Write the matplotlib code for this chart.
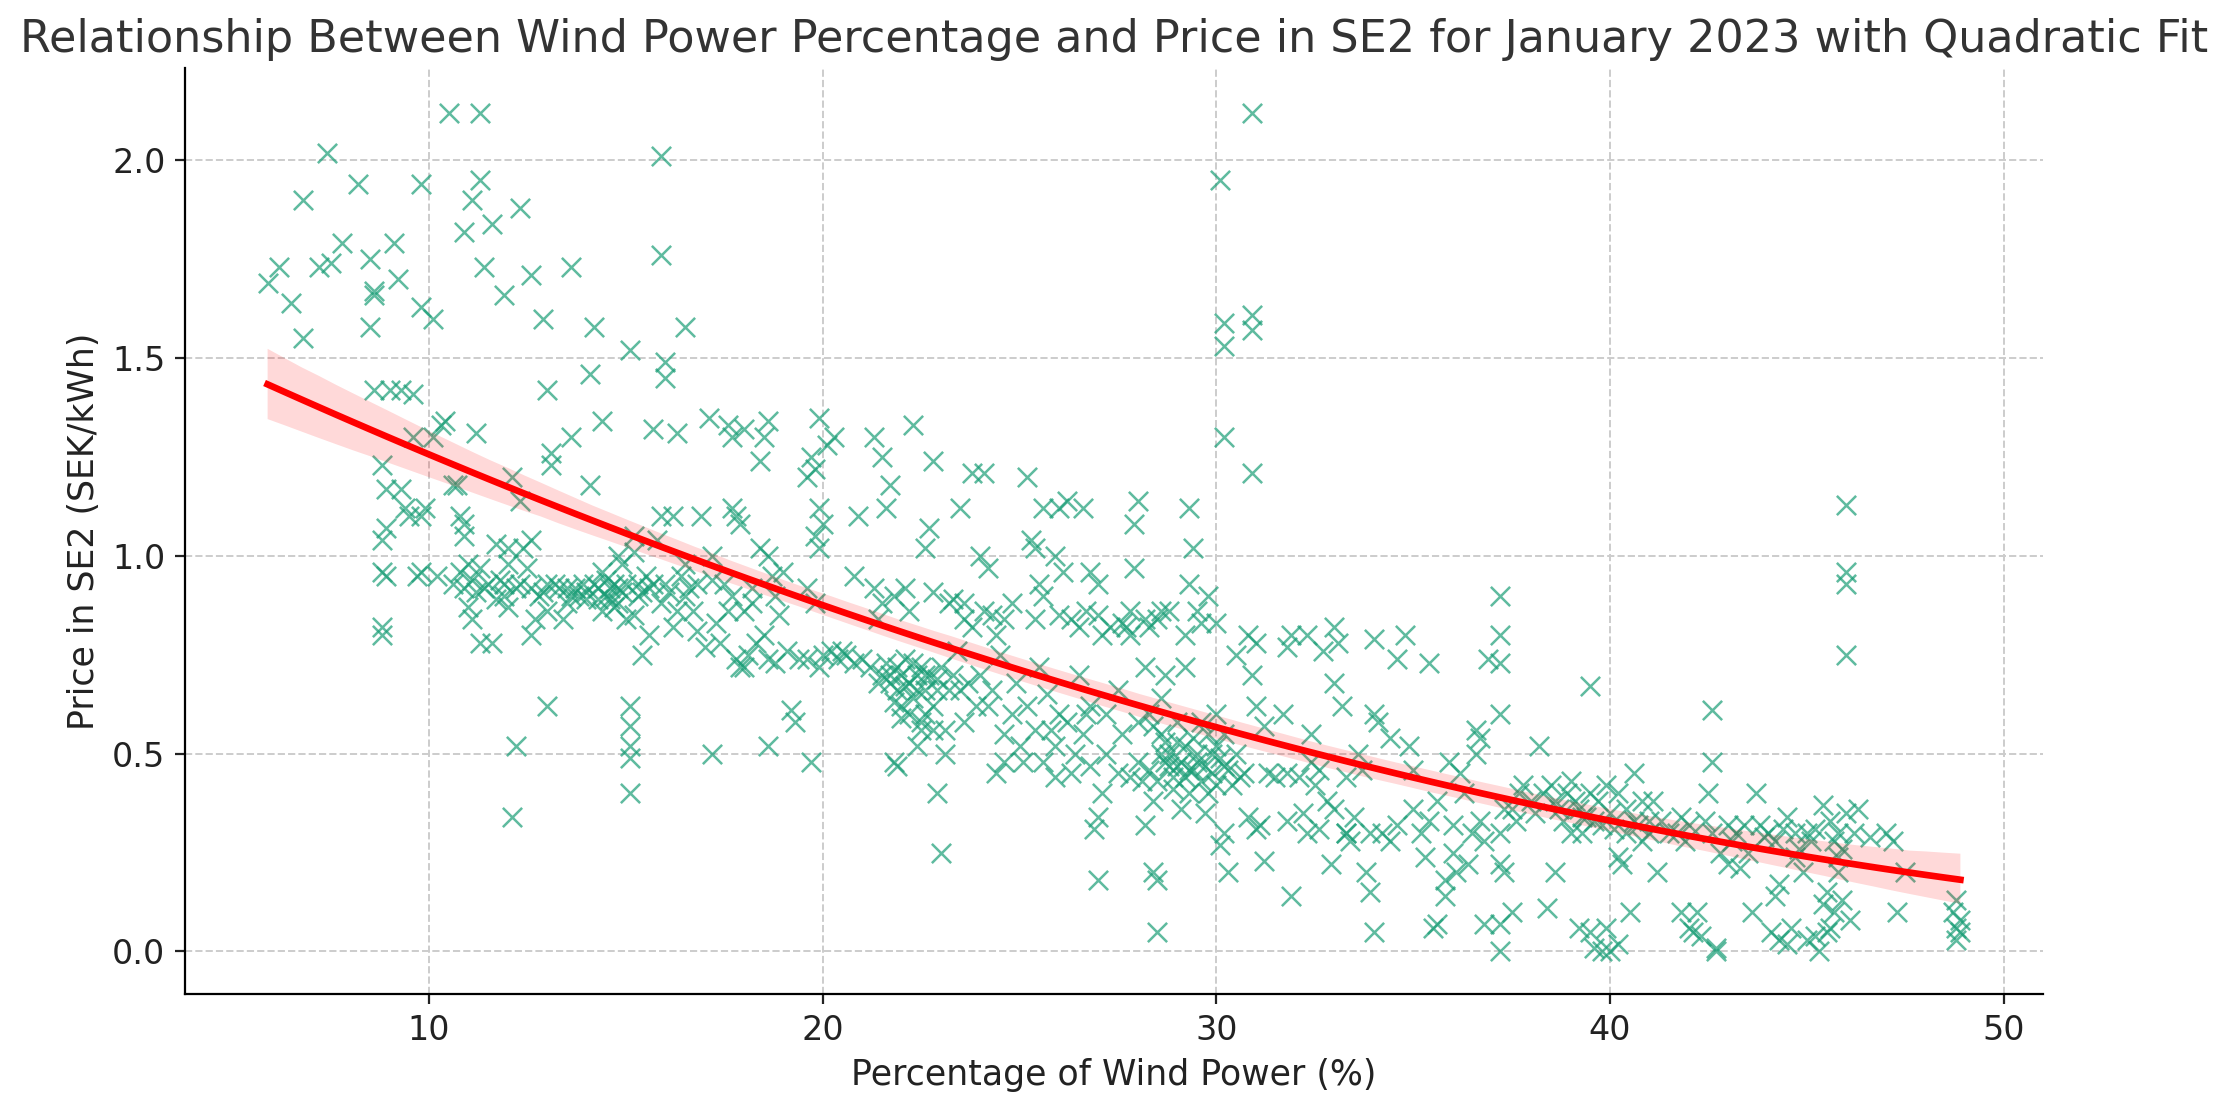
import matplotlib
matplotlib.use("Agg")
import matplotlib.pyplot as plt
import seaborn as sns
import numpy as np
import pandas as pd

# (wind %, price)
points = [
    # x 6-10
    (5.9,1.69),(6.2,1.73),(6.5,1.64),(6.8,1.90),(6.8,1.55),(7.2,1.73),(7.5,1.74),(7.4,2.02),(7.8,1.79),
    (8.2,1.94),(8.5,1.75),(8.6,1.66),(8.6,1.67),(8.5,1.58),(8.6,1.42),(9.1,1.79),(9.2,1.70),(9.0,1.42),
    (9.3,1.42),(9.6,1.41),(9.8,1.94),(9.8,1.63),(10.1,1.60),(8.8,1.23),(8.9,1.17),(8.9,1.07),(8.8,1.04),
    (8.8,0.96),(8.9,0.95),(8.8,0.82),(8.8,0.80),(9.3,1.17),(9.4,1.12),(9.5,1.10),(9.8,1.10),(9.8,0.96),
    (9.7,0.95),(9.9,1.12),(10.1,1.30),(10.3,1.33),(10.4,1.34),(9.6,1.30),
    # x 10-14
    (10.5,2.12),(11.3,2.12),(11.3,1.95),(11.1,1.90),(10.9,1.82),(11.6,1.84),(12.3,1.88),(11.4,1.73),
    (12.6,1.71),(11.9,1.66),(13.6,1.73),(12.9,1.60),(10.7,1.18),(10.8,1.10),(10.9,1.08),(10.9,1.05),
    (11.0,0.98),(11.1,0.94),(11.0,0.87),(11.1,0.84),(11.2,1.31),(10.6,1.18),(11.4,0.92),(11.3,0.78),
    (11.6,0.78),(11.8,0.94),(12.0,0.98),(12.1,1.20),(12.3,1.14),(12.0,1.02),(12.2,0.92),(12.4,1.02),
    (12.6,1.04),(12.6,0.80),(12.2,0.52),(12.1,0.34),(13.0,1.42),(13.1,1.26),(13.1,1.23),(13.0,0.62),
    (13.3,0.92),(13.6,1.30),(13.4,0.84),(13.0,0.93),(13.6,0.90),(13.9,0.93),(12.8,0.90),(11.7,1.03),(11.9,0.93),
    (10.2,0.95),(10.6,0.93),(10.9,0.92),(11.2,0.91),(11.5,0.93),(11.9,0.90),(12.3,0.93),(12.6,0.92),
    (12.9,0.91),(13.2,0.93),(13.7,0.92),(14.0,0.89),(11.3,0.97),(12.5,0.97),(13.5,0.88),(10.8,0.96),
    (11.7,0.89),(12.0,0.87),(13.0,0.86),(12.7,0.84),
    # x 14-18
    (14.2,1.58),(14.1,1.46),(14.4,1.34),(14.1,1.18),(14.3,0.92),(14.5,0.90),(14.6,0.89),(14.4,0.86),
    (14.7,0.93),(14.8,0.88),(14.9,0.98),(15.1,1.52),(15.2,1.05),(15.2,1.01),(15.3,0.93),(15.2,0.85),
    (15.1,0.62),(15.1,0.57),(15.1,0.52),(15.1,0.49),(15.1,0.40),(15.4,0.75),(15.6,0.80),(15.7,1.32),
    (15.9,2.01),(15.9,1.76),(16.0,1.49),(16.0,1.45),(15.9,1.10),(16.0,0.93),(16.2,1.10),(16.3,1.31),
    (16.5,1.58),(16.4,0.95),(16.6,0.92),(16.7,0.86),(16.8,0.81),(16.9,1.10),(16.5,0.98),(17.1,1.35),
    (17.2,1.00),(17.2,0.94),(17.0,0.77),(17.2,0.50),(17.6,1.33),(17.7,1.30),(17.7,1.12),(17.8,1.10),
    (17.9,1.08),(17.5,0.93),(17.7,0.90),(17.9,0.72),(17.8,0.74),(18.1,0.75),(18.0,1.32),(18.4,1.24),
    (15.8,1.04),(15.5,0.95),(14.0,0.91),(14.8,1.00),(15.0,0.84),(16.2,0.82),(17.3,0.83),(18.0,0.86),
    (14.2,0.93),(14.6,0.92),(14.9,0.91),(15.0,0.93),(15.3,0.90),(14.5,0.94),(14.7,0.87),(15.6,0.92),
    (13.8,0.90),(13.5,0.92),
    (14.3,0.89),(14.8,0.92),(15.4,0.91),(15.7,0.93),(16.1,0.91),(16.5,0.90),(16.8,0.93),(15.9,0.88),
    (16.3,0.86),(14.4,0.96),(17.4,0.78),(18.0,0.72),(17.6,0.86),
    # x 18-22
    (18.5,1.30),(18.6,1.34),(18.4,1.02),(18.6,1.00),(18.2,0.92),(18.5,0.80),(18.8,0.73),(19.0,0.96),
    (19.2,0.61),(19.3,0.58),(18.6,0.52),(19.7,0.48),(19.6,1.20),(19.7,1.25),(19.9,1.35),(19.8,1.22),
    (19.9,1.12),(20.0,1.08),(19.8,1.05),(19.9,1.02),(20.1,1.28),(20.3,1.30),(19.6,0.92),(19.8,0.88),
    (20.0,0.75),(19.9,0.72),(20.2,0.76),(20.5,0.76),(20.6,0.75),(21.0,0.74),(21.3,1.30),(21.5,1.25),
    (21.7,1.18),(21.6,1.12),(20.9,1.10),(21.3,0.92),(21.5,0.88),(21.4,0.84),(21.8,0.90),(21.5,0.70),
    (21.7,0.68),(21.9,0.72),(22.1,0.74),(21.8,0.63),(22.0,0.59),(21.8,0.48),(21.9,0.47),(22.3,1.33),
    (22.1,0.92),(22.2,0.86),(22.4,0.70),(22.3,0.64),(22.5,0.56),(22.6,0.60),(22.4,0.52),(19.4,0.74),
    (18.9,0.85),(20.8,0.95),(18.3,0.78),(18.7,0.95),(18.2,0.88),
    (21.6,0.73),(22.0,0.70),(22.2,0.68),(22.5,0.72),(22.7,0.70),(22.3,0.73),(21.9,0.66),(22.6,0.66),
    (22.0,0.62),(22.8,0.62),
    (18.6,0.74),(19.1,0.76),(19.6,0.74),(18.8,0.90),(20.4,0.74),(20.8,0.73),(21.2,0.72),(21.7,0.70),
    (22.1,0.67),(22.4,0.66),(21.4,0.68),(22.2,0.60),
    # x 22-26
    (22.8,1.24),(22.7,1.07),(22.6,1.02),(22.8,0.91),(22.9,0.40),(23.0,0.25),(23.1,0.56),(23.3,0.89),
    (23.5,1.12),(23.6,0.88),(23.8,0.82),(23.8,1.21),(24.1,1.21),(24.0,1.00),(24.2,0.97),(24.3,0.85),
    (24.4,0.80),(24.0,0.70),(24.2,0.62),(24.4,0.45),(24.6,0.48),(24.6,0.84),(24.9,0.68),(25.0,0.52),
    (25.2,1.20),(25.3,1.04),(25.4,1.02),(25.6,1.12),(25.5,0.93),(25.6,0.90),(25.4,0.84),(25.5,0.72),
    (25.7,0.65),(25.8,0.56),(25.6,0.48),(25.9,0.44),(26.0,1.12),(25.9,1.00),(26.1,0.96),(26.3,0.84),
    (23.0,0.72),(22.9,0.66),(23.2,0.66),(23.4,0.76),(23.6,0.58),(23.9,0.62),(24.5,0.75),(24.8,0.60),
    (23.1,0.50),(23.2,0.88),(23.6,0.84),(24.8,0.88),(24.1,0.86),
    (25.2,0.62),(26.0,0.60),(26.2,0.58),(26.8,0.62),
    (22.6,0.70),(22.9,0.69),(23.3,0.70),(23.7,0.68),(22.5,0.58),(22.8,0.56),(23.5,0.66),(24.3,0.66),
    (24.6,0.55),(25.1,0.48),(25.4,0.56),(25.9,0.52),
    # x 26-30
    (26.2,1.14),(26.6,1.12),(26.8,0.96),(27.0,0.93),(27.0,0.85),(26.7,0.86),(26.5,0.70),(26.6,0.55),
    (26.4,0.50),(26.8,0.47),(27.0,0.34),(27.1,0.40),(26.9,0.31),(27.0,0.18),(27.3,0.82),(27.5,0.66),
    (27.7,0.82),(27.8,0.86),(27.9,1.08),(28.0,1.14),(27.9,0.97),(28.2,0.84),(27.6,0.55),(27.8,0.44),
    (28.1,0.43),(28.0,0.48),(28.2,0.32),(28.3,0.60),(28.4,0.57),(28.4,0.20),(28.5,0.18),(28.5,0.05),
    (28.6,0.86),(28.8,0.86),(28.7,0.70),(28.6,0.64),(28.7,0.53),(28.6,0.50),(28.8,0.47),(28.9,0.44),
    (29.0,0.47),(29.2,0.80),(29.2,0.72),(29.3,1.12),(29.4,1.02),(29.3,0.93),(29.5,0.86),(29.6,0.83),
    (29.6,0.58),(29.4,0.46),(29.3,0.40),(29.8,0.40),(29.8,0.90),(30.0,0.83),(30.0,0.60),(30.1,0.49),
    (30.0,0.42),(30.2,0.30),(30.1,0.27),(30.1,1.95),(30.2,1.59),(30.2,1.53),(30.2,1.30),(27.2,0.60),
    (28.2,0.72),(28.0,0.58),(29.0,0.58),(29.9,0.50),(30.2,0.55),(30.3,0.20),(29.2,0.52),
    (28.8,0.50),(29.0,0.53),(29.1,0.48),(29.3,0.46),(29.5,0.50),(29.7,0.47),(30.3,0.46),(30.5,0.50),
    (28.6,0.55),(29.8,0.55),(30.4,0.42),(29.4,0.54),(27.6,0.83),(27.8,0.80),(28.3,0.82),(28.5,0.84),
    (26.3,0.45),(26.7,0.60),(27.2,0.50),(27.5,0.45),(26.0,0.85),(26.5,0.82),(27.1,0.80),
    (28.3,0.46),(28.5,0.43),(28.9,0.41),(29.2,0.44),(29.6,0.43),(29.9,0.45),(30.2,0.47),(30.6,0.44),
    (28.7,0.48),(29.5,0.48),(30.0,0.52),(28.4,0.38),(29.1,0.36),(29.7,0.35),
    # x 30-34
    (30.9,2.12),(30.9,1.61),(30.9,1.57),(30.9,1.21),(30.5,0.75),(30.8,0.80),(31.0,0.78),(30.9,0.70),
    (31.0,0.62),(31.2,0.57),(30.7,0.45),(30.8,0.34),(31.0,0.31),(31.1,0.32),(31.2,0.23),(31.5,0.44),
    (31.7,0.60),(31.8,0.45),(31.9,0.80),(31.8,0.77),(31.9,0.14),(32.3,0.80),(32.4,0.55),(32.4,0.48),
    (32.6,0.46),(32.5,0.42),(32.3,0.30),(32.6,0.31),(32.7,0.76),(33.0,0.82),(33.1,0.78),(33.0,0.68),
    (33.2,0.62),(33.3,0.44),(33.0,0.36),(33.3,0.30),(33.6,0.50),(33.7,0.46),(33.5,0.34),(33.3,0.30),
    (33.8,0.20),(33.9,0.15),(34.0,0.79),(34.0,0.60),(34.1,0.58),(34.0,0.05),(34.2,0.30),(34.4,0.28),
    (34.4,0.54),(32.9,0.22),(32.1,0.44),
    (31.3,0.45),(31.8,0.33),(32.2,0.35),(32.8,0.38),(33.4,0.28),(33.9,0.30),
    # x 34-38
    (34.6,0.74),(34.8,0.80),(34.9,0.52),(35.0,0.46),(35.0,0.36),(35.2,0.30),(35.4,0.73),(35.3,0.24),
    (35.5,0.06),(35.6,0.07),(35.8,0.14),(35.8,0.18),(35.9,0.48),(36.0,0.32),(36.2,0.45),(36.3,0.40),
    (36.4,0.22),(36.5,0.30),(36.6,0.56),(36.6,0.50),(36.7,0.54),(36.7,0.33),(36.9,0.74),(36.8,0.07),
    (37.2,0.90),(37.2,0.80),(37.2,0.73),(37.2,0.60),(37.3,0.36),(37.2,0.30),(37.2,0.22),(37.3,0.20),
    (37.2,0.00),(37.5,0.36),(37.6,0.33),(37.7,0.40),(37.8,0.42),(37.5,0.10),(37.2,0.07),(36.1,0.20),(35.6,0.38),
    (34.6,0.32),(35.4,0.33),(36.0,0.25),(36.8,0.28),
    # x 38-42
    (38.1,0.35),(38.2,0.52),(38.3,0.40),(38.5,0.42),(38.6,0.38),(38.6,0.20),(38.8,0.33),(38.9,0.40),
    (39.0,0.43),(39.1,0.38),(39.0,0.30),(39.2,0.36),(39.2,0.06),(39.5,0.67),(39.5,0.40),(39.6,0.33),
    (39.5,0.05),(39.6,0.01),(39.8,0.00),(39.9,0.06),(40.0,0.00),(40.2,0.02),(39.9,0.42),(40.2,0.40),
    (40.4,0.36),(40.6,0.45),(40.4,0.30),(40.5,0.10),(40.8,0.28),(41.0,0.33),(41.0,0.30),(41.2,0.20),
    (41.1,0.38),(41.5,0.30),(41.8,0.34),(42.0,0.32),(41.9,0.28),(42.0,0.06),(42.2,0.10),(42.3,0.04),
    (40.2,0.24),(40.3,0.22),(38.4,0.11),(39.3,0.30),
    (39.4,0.34),(39.8,0.32),(40.0,0.35),(40.6,0.33),(40.8,0.38),(39.7,0.38),
    (38.0,0.38),(38.7,0.36),(39.3,0.34),(40.1,0.31),(40.7,0.32),(41.3,0.33),(41.7,0.30),
    (41.8,0.10),(42.1,0.05),
    # x 42-49
    (42.6,0.61),(42.6,0.48),(42.5,0.40),(42.6,0.30),(42.8,0.25),(42.7,0.01),(42.7,0.00),(43.0,0.32),
    (43.2,0.30),(43.4,0.32),(43.5,0.25),(43.7,0.40),(43.8,0.32),(44.0,0.30),(44.2,0.28),(44.2,0.14),
    (44.3,0.17),(44.3,0.03),(44.5,0.34),(44.7,0.30),(44.8,0.26),(44.7,0.24),(45.0,0.30),(45.1,0.28),
    (45.2,0.04),(45.3,0.00),(45.4,0.12),(45.5,0.15),(45.4,0.37),(45.6,0.33),(45.8,0.30),(45.8,0.24),
    (45.6,0.06),(45.9,0.26),(46.0,1.13),(46.0,0.96),(46.0,0.93),(46.0,0.75),(46.0,0.35),(46.2,0.30),
    (46.6,0.29),(47.0,0.30),(47.2,0.28),(47.3,0.10),(48.8,0.13),(48.8,0.06),(48.9,0.05),(48.8,0.03),
    (43.0,0.22),(44.6,0.06),(43.3,0.21),(45.8,0.20),(46.3,0.36),
    (42.4,0.33),(43.1,0.28),(43.9,0.29),(44.4,0.31),(45.2,0.31),(45.7,0.28),
    (43.6,0.10),(44.1,0.05),(44.5,0.02),(45.0,0.03),(45.5,0.05),(45.7,0.10),(45.9,0.13),(46.1,0.08),
    (44.9,0.20),(47.5,0.20),(48.7,0.10),(48.9,0.08),
]

wind_pct = [p[0] for p in points]
price_se2 = [p[1] for p in points]

df = pd.DataFrame({"wind": wind_pct, "price": price_se2})

fig = plt.figure(figsize=(11.14, 5.505), dpi=200)
ax = fig.add_axes([0.083, 0.097, 0.834, 0.841])

sns.regplot(data=df, x="wind", y="price", order=2, ax=ax, seed=0,
            marker="x",
            scatter_kws=dict(color="#1b9e77", alpha=0.7, s=48, linewidths=0.9),
            line_kws=dict(color="red", linewidth=2.4))

ax.set_xlim(3.8, 51.0)
ax.set_ylim(-0.108, 2.233)
ax.set_xticks([10, 20, 30, 40, 50])
ax.set_yticks([0.0, 0.5, 1.0, 1.5, 2.0])
ax.set_yticklabels(["0.0", "0.5", "1.0", "1.5", "2.0"])
ax.grid(True, linestyle="--", color="#cccccc", linewidth=0.7)
ax.set_axisbelow(True)
ax.spines["top"].set_visible(False)
ax.spines["right"].set_visible(False)
ax.tick_params(labelsize=12, colors="#222222")
ax.set_xlabel("Percentage of Wind Power (%)", fontsize=12.5, color="#222222")
ax.set_ylabel("Price in SE2 (SEK/kWh)", fontsize=12.5, color="#222222")
ax.set_title("Relationship Between Wind Power Percentage and Price in SE2 for January 2023 with Quadratic Fit",
             fontsize=16, color="#333333")

fig.savefig("out.png", dpi=200)
